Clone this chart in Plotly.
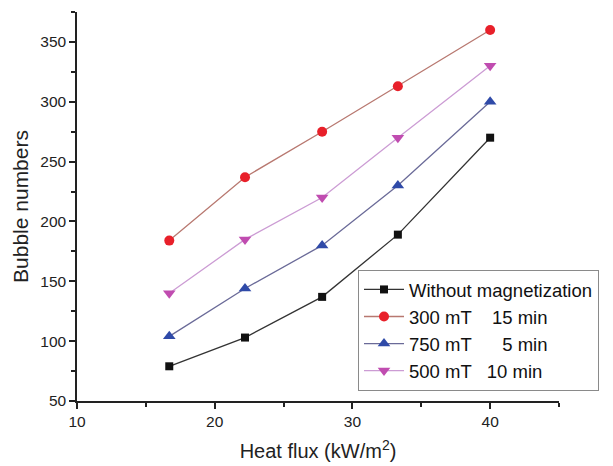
import plotly.graph_objects as go

heat_flux = [16.7, 22.2, 27.8, 33.3, 40.0]
without_mag = [79, 103, 137, 189, 270]
mT300_15 = [184, 237, 275, 313, 360]
mT750_5 = [104, 144, 180, 230, 300]
mT500_10 = [140, 185, 220, 270, 330]

series = [
    ("Without magnetization", without_mag, "#111111", "#333333", "square", 8),
    ("300 mT    15 min", mT300_15, "#e8202a", "#b87870", "circle", 10),
    ("750 mT      5 min", mT750_5, "#2f4aa8", "#6a6a98", "triangle-up", 11),
    ("500 mT   10 min", mT500_10, "#c04cb0", "#cc9cd4", "triangle-down", 11),
]

fig = go.Figure()
for name, ys, mcol, lcol, sym, size in series:
    fig.add_trace(go.Scatter(
        x=heat_flux, y=ys, name=name, mode="lines+markers",
        line=dict(color=lcol, width=1.3),
        marker=dict(color=mcol, symbol=sym, size=size, line=dict(width=0)),
    ))

font = "Liberation Sans, Arial, sans-serif"
fig.update_layout(
    width=613, height=466,
    margin=dict(l=69, r=62, t=4, b=73, autoexpand=False),
    paper_bgcolor="white", plot_bgcolor="white",
    font=dict(family=font, size=15, color="#222222"),
    showlegend=True,
    legend=dict(
        x=0.583, y=0.337, xanchor="left", yanchor="top",
        bordercolor="#8a8a8a", borderwidth=1, bgcolor="white",
        font=dict(family=font, size=18.5, color="#111111"),
        tracegroupgap=0, itemwidth=40,
    ),
    xaxis=dict(
        range=[10, 45], tickvals=[10, 20, 30, 40],
        ticks="outside", ticklen=6, tickwidth=1.5, tickcolor="#222",
        showline=True, linecolor="#222", linewidth=1.5,
        showgrid=False, zeroline=False,
        minor=dict(tickvals=[15, 25, 35, 45], ticks="outside", ticklen=4, tickcolor="#222", tickwidth=1.5),
        title=dict(text="Heat flux (kW/m<sup>2</sup>)", font=dict(size=20), standoff=15),
        tickfont=dict(size=15.5),
    ),
    yaxis=dict(
        range=[50, 375], tickvals=[50, 100, 150, 200, 250, 300, 350],
        ticks="outside", ticklen=6, tickwidth=1.5, tickcolor="#222",
        showline=True, linecolor="#222", linewidth=1.5,
        showgrid=False, zeroline=False,
        minor=dict(tickvals=[75, 125, 175, 225, 275, 325, 375], ticks="outside", ticklen=4, tickcolor="#222", tickwidth=1.5),
        title=dict(text="Bubble numbers", font=dict(size=21), standoff=6),
        tickfont=dict(size=15.5),
    ),
)

fig.write_html("out.html")
